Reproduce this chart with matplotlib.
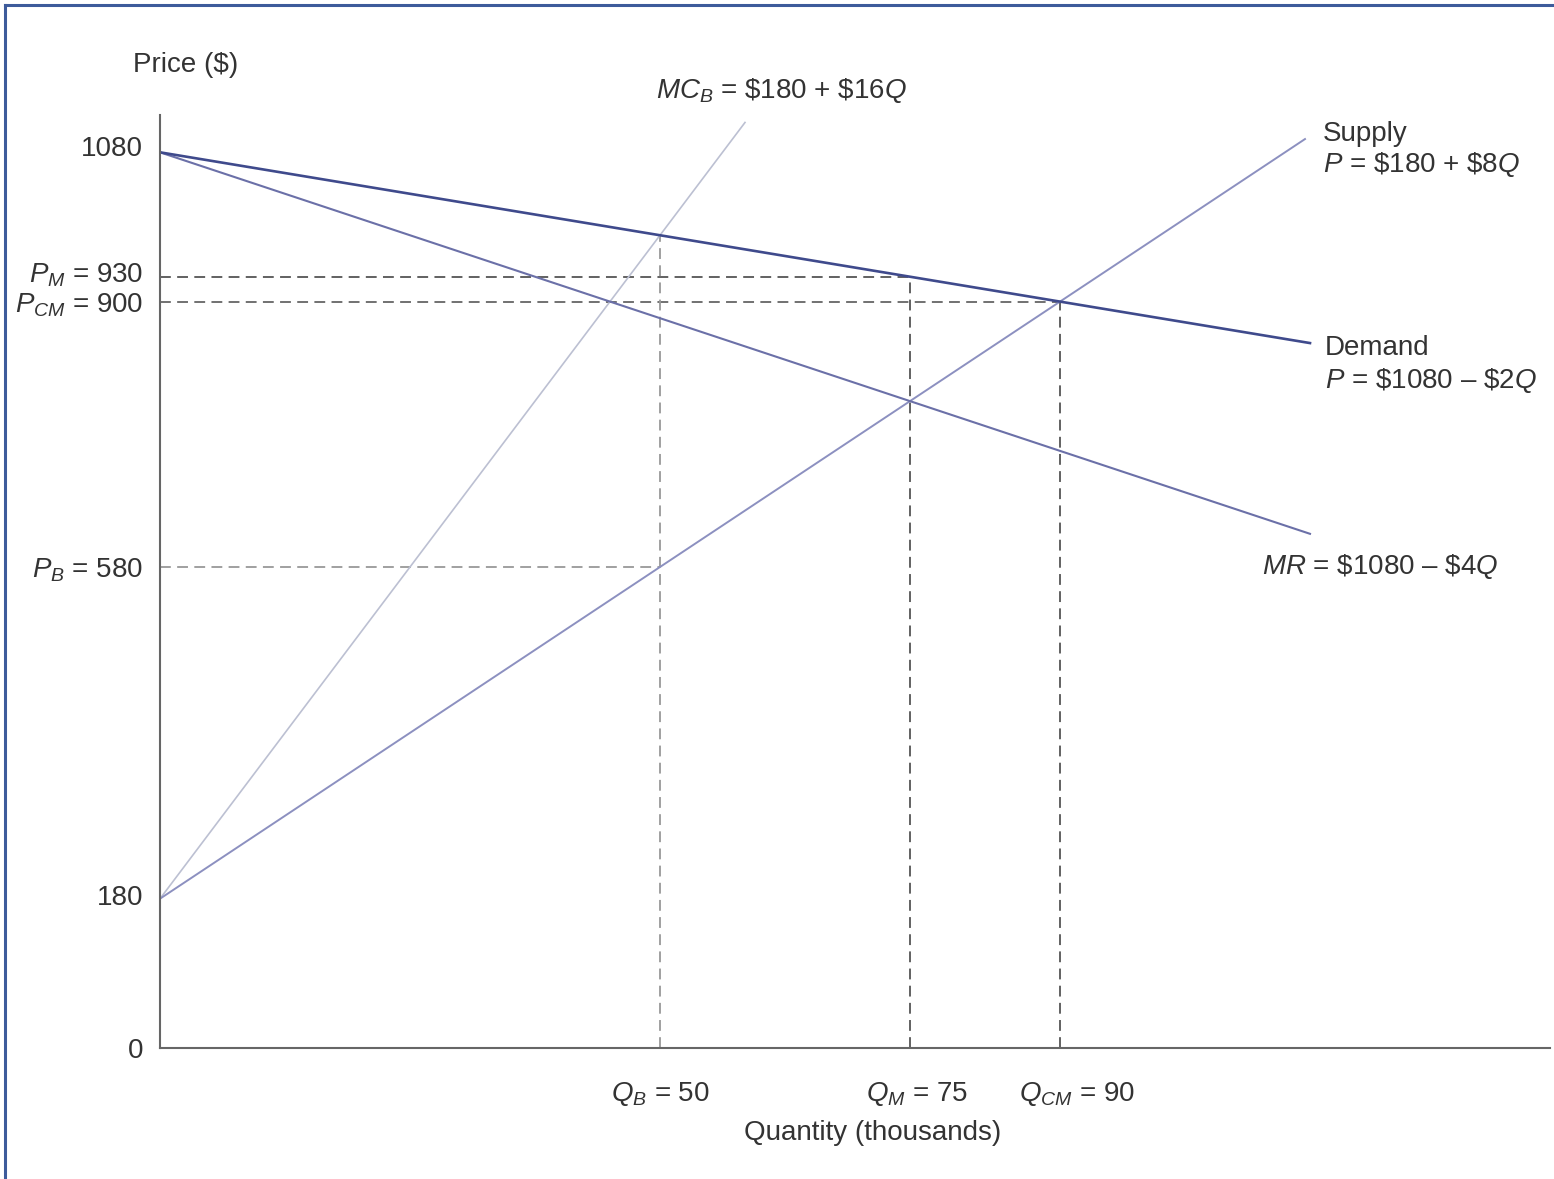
import matplotlib.pyplot as plt
from matplotlib.lines import Line2D
from matplotlib.transforms import ScaledTranslation

plt.rcParams['font.family'] = ['Liberation Sans', 'DejaVu Sans']
plt.rcParams['mathtext.fontset'] = 'custom'
plt.rcParams['mathtext.rm'] = 'Liberation Sans'
plt.rcParams['mathtext.it'] = 'Liberation Sans:italic'

# curve end points (quantity in thousands, price in $)
demand_q = [0, 115]
demand_p = [1080, 850]
mr_q = [0, 115]
mr_p = [1080, 620]
supply_q = [0, 114.5]
supply_p = [180, 1096]
mcb_q = [0, 58.5]
mcb_p = [180, 1116]

# equilibrium points
q_b, p_b = 50, 580
q_m, p_m = 75, 930
q_cm, p_cm = 90, 900
p_b_demand = 980  # demand price at Q_B

price_ticks = [0, 180, p_b, p_cm, p_m, 1080]
price_labels = ['0', '180', r'$P_B$ = 580', r'$P_{CM}$ = 900', r'$P_M$ = 930', '1080']
qty_ticks = [q_b, q_m, q_cm]
qty_labels = [r'$Q_B$ = 50', r'$Q_M$ = 75', r'$Q_{CM}$ = 90']

txt = '#333333'
fs = 20
fig = plt.figure(figsize=(15.54, 11.79), dpi=100)
ax = fig.add_axes([160 / 1554, 131 / 1179, 1390 / 1554, 933 / 1179])
ax.set_xlim(0, 139)
ax.set_ylim(0, 1125)

# dashed guide lines
dash = dict(lw=1.3, dashes=(6, 3.5))
ax.plot([0, q_m], [p_m, p_m], color='#555555', **dash)
ax.plot([0, q_cm], [p_cm, p_cm], color='#666666', **dash)
ax.plot([0, q_b], [p_b, p_b], color='#999999', **dash)
ax.plot([q_b, q_b], [0, p_b_demand], color='#999999', **dash)
ax.plot([q_m, q_m], [0, p_m], color='#555555', **dash)
ax.plot([q_cm, q_cm], [0, p_cm], color='#555555', **dash)

# curves
ax.plot(mcb_q, mcb_p, color='#bcc0d2', lw=1.2)
ax.plot(supply_q, supply_p, color='#8c90c0', lw=1.4)
ax.plot(mr_q, mr_p, color='#6b70a8', lw=1.5)
ax.plot(demand_q, demand_p, color='#3f4a8c', lw=1.9)

# axes styling
for s in ['top', 'right']:
    ax.spines[s].set_visible(False)
for s in ['left', 'bottom']:
    ax.spines[s].set_color('#666666')
    ax.spines[s].set_linewidth(1.5)
ax.set_yticks(price_ticks, price_labels)
ax.set_xticks(qty_ticks, qty_labels)
ax.tick_params(axis='y', length=0, pad=12, labelsize=fs, labelcolor=txt)
ax.tick_params(axis='x', length=0, pad=23, labelsize=fs, labelcolor=txt)

# nudge a few tick labels (pixels)
y_nudges = [0, 4, 0, 0, 5, 6]
for lbl, dy in zip(ax.get_yticklabels(), y_nudges):
    lbl.set_transform(lbl.get_transform() + ScaledTranslation(0, dy / 100, fig.dpi_scale_trans))
x_nudges = [0, 7, 17]
for lbl, dx in zip(ax.get_xticklabels(), x_nudges):
    lbl.set_transform(lbl.get_transform() + ScaledTranslation(dx / 100, 0, fig.dpi_scale_trans))

# curve labels
ax.text(49.6, 1155, r'$MC_B$ = \$180 + \$16$Q$', fontsize=fs, color=txt, va='center', clip_on=False)
ax.text(116.3, 1102, 'Supply', fontsize=fs, color=txt, va='center', clip_on=False)
ax.text(116.3, 1065, r'$P$ = \$180 + \$8$Q$', fontsize=fs, color=txt, va='center', clip_on=False)
ax.text(116.5, 844, 'Demand', fontsize=fs, color=txt, va='center', clip_on=False)
ax.text(116.5, 805, r'$P$ = \$1080 – \$2$Q$', fontsize=fs, color=txt, va='center', clip_on=False)
ax.text(110.2, 580, r'$MR$ = \$1080 – \$4$Q$', fontsize=fs, color=txt, va='center', clip_on=False)
ax.text(-2.7, 1185, 'Price ($)', fontsize=fs, color=txt, va='center', clip_on=False)
ax.text(71.3, -102, 'Quantity (thousands)', fontsize=fs, color=txt, va='center', ha='center', clip_on=False)

# frame around figure (top and left edges)
frame = '#3d5b9b'
fig.add_artist(Line2D([5 / 1554, 1], [1 - 5 / 1179, 1 - 5 / 1179], color=frame, lw=2.2, transform=fig.transFigure))
fig.add_artist(Line2D([5 / 1554, 5 / 1554], [0, 1 - 5 / 1179], color=frame, lw=2.2, transform=fig.transFigure))

fig.savefig('out.png', dpi=100)
